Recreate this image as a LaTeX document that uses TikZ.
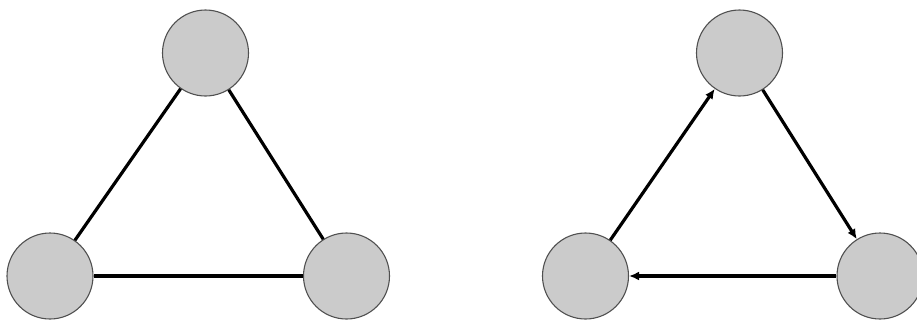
\documentclass[tikz,border=0pt]{standalone}
\usetikzlibrary{arrows.meta}
\definecolor{nodefill}{HTML}{CBCBCB}
\definecolor{nodeline}{HTML}{505050}
\begin{document}
\begin{tikzpicture}[x=1pt,y=-1pt,
  vert/.style={circle,minimum size=86pt,inner sep=0pt,fill=nodefill,draw=nodeline,line width=1.1pt},
  edge/.style={line width=3.2pt,black},
  arr/.style={edge,-{Latex[length=10pt,width=9pt]}}]
\useasboundingbox (0,0) rectangle (917,322);
\node[vert] (a1) at (205.5,53) {};
\node[vert] (b1) at (50,276) {};
\node[vert] (c1) at (346.5,276) {};
\draw[edge] (a1) -- (b1);
\draw[edge] (a1) -- (c1);
\draw[edge] (b1) -- (c1);
\node[vert] (a2) at (739.5,53) {};
\node[vert] (b2) at (585.5,276) {};
\node[vert] (c2) at (880,276) {};
\draw[arr] (b2) -- (a2);
\draw[arr] (a2) -- (c2);
\draw[arr] (c2) -- (b2);
\end{tikzpicture}
\end{document}
